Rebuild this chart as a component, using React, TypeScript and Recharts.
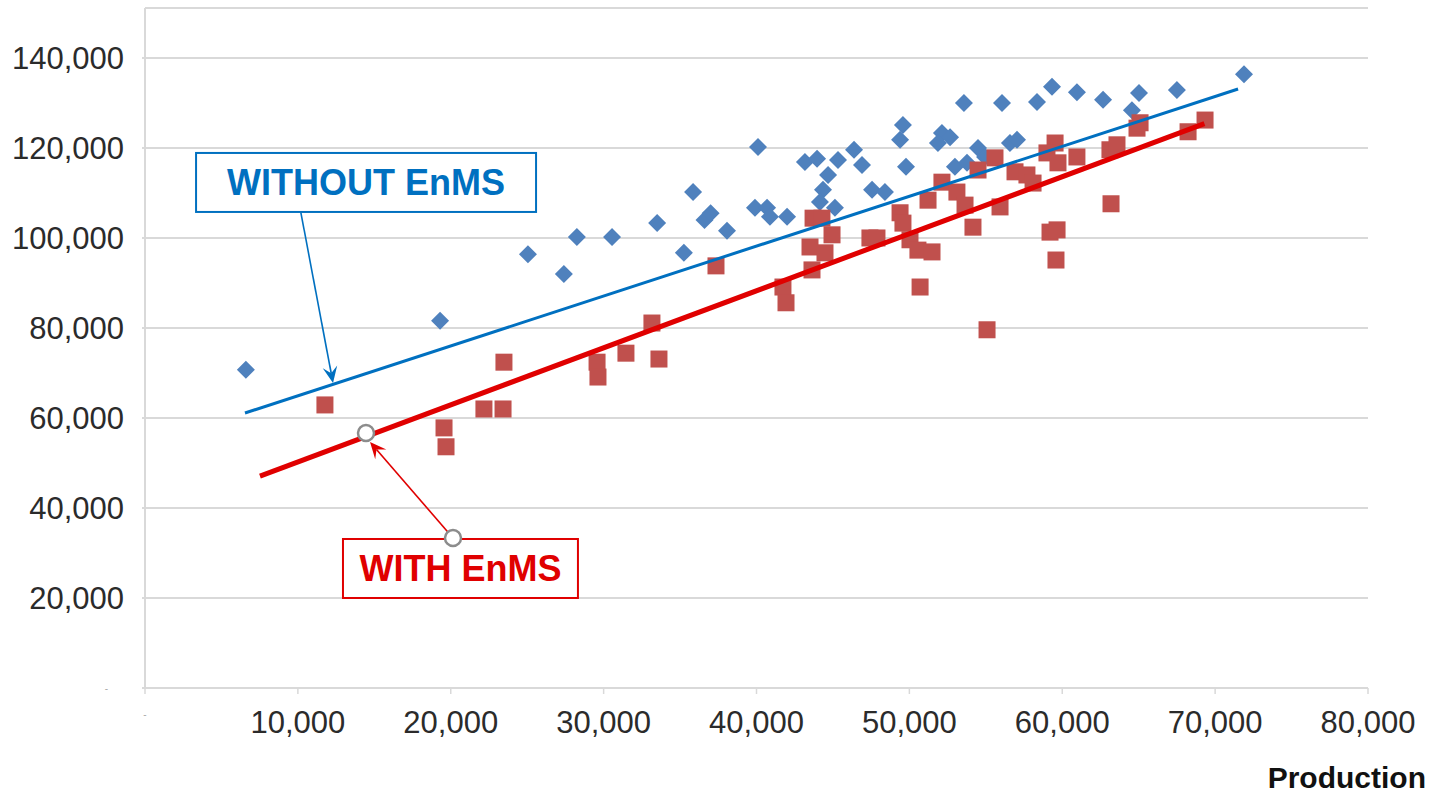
import React from 'react';
import {
  ScatterChart,
  Scatter,
  XAxis,
  YAxis,
  CartesianGrid,
  ReferenceLine,
  ReferenceArea,
  ReferenceDot,
} from 'recharts';

// WITHOUT EnMS (blue diamonds)
const withoutProduction = [
  6600, 19300, 25050, 27400, 28250, 30550, 33500, 35250, 35850, 36600,
  37000, 38070, 40100, 39900, 40690, 40880, 42000, 43170, 43960, 45330,
  46380, 46900, 44680, 44350, 44150, 45130, 47560, 48400, 49580, 49390,
  49780, 52130, 52660, 51870, 52980, 53570, 54490, 54950, 53770, 56060,
  58350, 59330, 60960, 62670, 65020, 64560, 67500, 71890, 56580, 57040,
];
const withoutEnergy = [
  70700, 81600, 96400, 92000, 100200, 100200, 103300, 96700, 110200, 104000,
  105500, 101600, 120200, 106700, 106700, 104700, 104700, 116900, 117600, 117300,
  119600, 116200, 114000, 110700, 108000, 106700, 110700, 110200, 125100, 121800,
  115800, 123300, 122400, 121100, 115800, 130000, 120000, 118000, 116700, 130000,
  130200, 133600, 132400, 130700, 132200, 128400, 132900, 136400, 121100, 121800,
];

// WITH EnMS (red squares)
const withProduction = [
  11770, 23480, 22170, 23420, 19560, 19690, 29570, 29630, 31460, 33160,
  33620, 37350, 43700, 44280, 44940, 43500, 44480, 43630, 41730, 41930,
  47420, 47880, 49390, 49580, 50040, 50560, 51480, 50700, 51220, 52130,
  53110, 53640, 54160, 54490, 55600, 55080, 55930, 56910, 57690, 58090,
  59530, 59000, 59720, 60960, 59200, 59660, 59590, 63120, 63580, 63190,
  64890, 65090, 68230, 69340,
];
const withEnergy = [
  62900, 72400, 62000, 62000, 57800, 53600, 72400, 69100, 74400, 81100,
  73100, 93800, 104400, 104400, 100700, 98000, 96700, 92900, 89100, 85600,
  100000, 100000, 105600, 103300, 99600, 97300, 96900, 89100, 108400, 112400,
  110200, 107300, 102400, 115100, 117800, 79600, 106900, 114700, 114000, 112200,
  121100, 118900, 116700, 118000, 101300, 101800, 95100, 119600, 120700, 107600,
  124400, 125600, 123600, 126200,
];

// trend lines (start / end)
const withoutTrendX = [6540, 71500];
const withoutTrendY = [61100, 133100];
const withTrendX = [7520, 69300];
const withTrendY = [47100, 125400];

const xTicks = [0, 10000, 20000, 30000, 40000, 50000, 60000, 70000, 80000];
const yTicks = [0, 20000, 40000, 60000, 80000, 100000, 120000, 140000];

const zip = (xs: number[], ys: number[]) => xs.map((x, i) => ({ x, y: ys[i] }));

const withoutData = zip(withoutProduction, withoutEnergy);
const withData = zip(withProduction, withEnergy);
const withoutTrend = zip(withoutTrendX, withoutTrendY);
const withTrend = zip(withTrendX, withTrendY);

const FONT = '"Liberation Sans", Arial, sans-serif';
const BLUE = '#0070C0';
const RED = '#E00000';

const fmt = (v: number) => v.toLocaleString('en-US');

const Diamond = (props: any) => {
  const { cx, cy } = props;
  const r = 9;
  return (
    <polygon
      points={`${cx},${cy - r} ${cx + r},${cy} ${cx},${cy + r} ${cx - r},${cy}`}
      fill="#4F81BD"
    />
  );
};

const Square = (props: any) => {
  const { cx, cy } = props;
  const s = 17;
  return <rect x={cx - s / 2} y={cy - s / 2} width={s} height={s} fill="#C0504D" />;
};

const NoDot = () => <g />;

const YTick = (props: any) => {
  const { x, y, payload } = props;
  if (payload.value === 0) {
    return (
      <text x={x - 16} y={y} dy="0.355em" textAnchor="end" fontSize={10} fill="#aaa" fontFamily={FONT}>
        -
      </text>
    );
  }
  return (
    <text x={x} y={y} dy="0.355em" textAnchor="end" fontSize={31} fill="#2b2b2b" fontFamily={FONT}>
      {fmt(payload.value)}
    </text>
  );
};

const XTick = (props: any) => {
  const { x, y, payload } = props;
  if (payload.value === 0) {
    return (
      <text x={x} y={y} dy="0.71em" textAnchor="middle" fontSize={10} fill="#aaa" fontFamily={FONT}>
        -
      </text>
    );
  }
  return (
    <text x={x} y={y} dy="0.71em" textAnchor="middle" fontSize={31} fill="#2b2b2b" fontFamily={FONT}>
      {fmt(payload.value)}
    </text>
  );
};

const ProductionLabel = (props: any) => {
  const vb = props.viewBox || {};
  return (
    <text
      x={vb.x + vb.width + 58}
      y={vb.y + 100}
      textAnchor="end"
      fontSize={30}
      fontWeight="bold"
      fill="#111"
      fontFamily={FONT}
    >
      Production
    </text>
  );
};

const boxShape = (text: string, color: string) => (p: any) => {
  const { x, y, width, height } = p;
  return (
    <g>
      <rect x={x} y={y} width={width} height={height} fill="#fff" stroke={color} strokeWidth={2} />
      <text
        x={x + width / 2}
        y={y + height / 2 + 12.6}
        textAnchor="middle"
        fontSize={36}
        fontWeight="bold"
        fill={color}
        fontFamily={FONT}
      >
        {text}
      </text>
    </g>
  );
};

const arrowShape = (color: string) => (p: any) => {
  const { x1, y1, x2, y2 } = p;
  const a = Math.atan2(y2 - y1, x2 - x1);
  const len = 18;
  const spread = 0.42;
  const w1x = x2 - len * Math.cos(a - spread);
  const w1y = y2 - len * Math.sin(a - spread);
  const w2x = x2 - len * Math.cos(a + spread);
  const w2y = y2 - len * Math.sin(a + spread);
  const nx = x2 - len * 0.55 * Math.cos(a);
  const ny = y2 - len * 0.55 * Math.sin(a);
  return (
    <g>
      <line x1={x1} y1={y1} x2={nx} y2={ny} stroke={color} strokeWidth={1.6} />
      <polygon points={`${x2},${y2} ${w1x},${w1y} ${nx},${ny} ${w2x},${w2y}`} fill={color} />
    </g>
  );
};

export default function App() {
  return (
    <div style={{ position: 'absolute', left: 0, top: 0, width: 1435, height: 796, background: '#fff' }}>
      <ScatterChart width={1435} height={796} margin={{ top: 8, right: 67, left: 0, bottom: 48 }}>
        <CartesianGrid vertical={false} stroke="#d9d9d9" strokeWidth={2} />
        <XAxis
          type="number"
          dataKey="x"
          domain={[0, 80000]}
          ticks={xTicks}
          interval={0}
          height={60}
          axisLine={{ stroke: '#d9d9d9', strokeWidth: 2 }}
          tickLine={{ stroke: '#d9d9d9', strokeWidth: 1.5 }}
          tickSize={6}
          tickMargin={17}
          tick={<XTick />}
          label={<ProductionLabel />}
        />
        <YAxis
          type="number"
          dataKey="y"
          domain={[0, 151100]}
          ticks={yTicks}
          interval={0}
          width={145}
          axisLine={{ stroke: '#d9d9d9', strokeWidth: 2 }}
          tickLine={{ stroke: '#d9d9d9', strokeWidth: 2 }}
          tickSize={3}
          tickMargin={18}
          tick={<YTick />}
        />
        <Scatter name="WITHOUT EnMS" data={withoutData} shape={Diamond} isAnimationActive={false} />
        <Scatter name="WITH EnMS" data={withData} shape={Square} isAnimationActive={false} />
        <Scatter
          data={withoutTrend}
          line={{ stroke: BLUE, strokeWidth: 3 }}
          shape={NoDot}
          isAnimationActive={false}
        />
        <Scatter
          data={withTrend}
          line={{ stroke: RED, strokeWidth: 5 }}
          shape={NoDot}
          isAnimationActive={false}
        />
        <ReferenceArea
          x1={3340}
          x2={25580}
          y1={105780}
          y2={118890}
          shape={boxShape('WITHOUT EnMS', BLUE)}
        />
        <ReferenceArea
          x1={12950}
          x2={28320}
          y1={20000}
          y2={33110}
          shape={boxShape('WITH EnMS', RED)}
        />
        <ReferenceLine
          segment={[{ x: 10200, y: 105560 }, { x: 12300, y: 67780 }]}
          shape={arrowShape(BLUE)}
        />
        <ReferenceLine
          segment={[{ x: 20147, y: 33333 }, { x: 14720, y: 54670 }]}
          shape={arrowShape(RED)}
        />
        <ReferenceDot x={14456} y={56667} r={8} fill="#fff" stroke="#8c8c8c" strokeWidth={2.5} />
        <ReferenceDot x={20147} y={33333} r={8} fill="#fff" stroke="#8c8c8c" strokeWidth={2.5} />
      </ScatterChart>
    </div>
  );
}
